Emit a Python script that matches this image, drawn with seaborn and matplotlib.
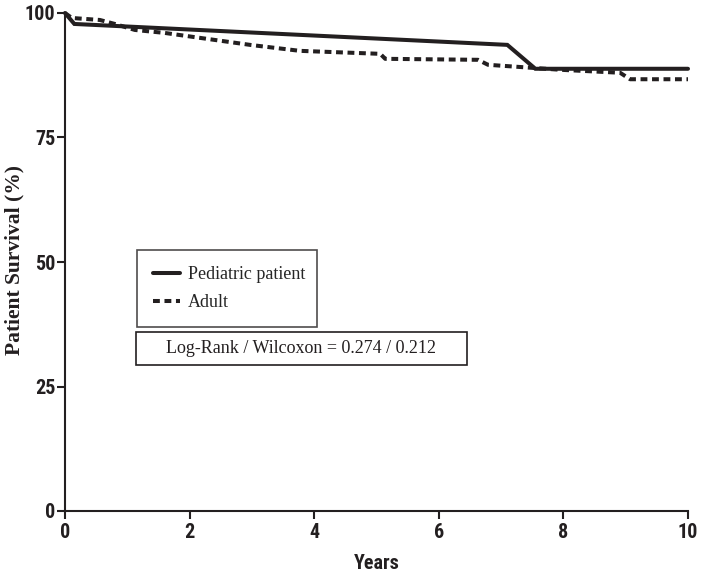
import matplotlib
matplotlib.use("Agg")
import matplotlib.pyplot as plt
from matplotlib import font_manager
from matplotlib.patches import Rectangle
import seaborn as sns
import pandas as pd

# Data
ped_years = [0.0, 0.15, 7.1, 7.55, 10.0]
ped_surv = [100.0, 97.8, 93.6, 88.8, 88.8]
adult_years = [0.0, 0.11, 0.56, 0.80, 1.12, 1.6, 2.17, 2.97, 3.77, 5.06, 5.14, 6.63, 6.79, 7.95, 8.91, 9.07, 10.0]
adult_surv = [100.0, 99.0, 98.6, 97.8, 96.6, 96.0, 95.0, 93.6, 92.4, 91.8, 90.8, 90.6, 89.6, 88.6, 88.0, 86.7, 86.7]
group_names = ["Pediatric patient", "Adult"]
x_ticks = [0, 2, 4, 6, 8, 10]
y_ticks = [0, 25, 50, 75, 100]
stat_text = "Log-Rank / Wilcoxon = 0.274 / 0.212"

df = pd.DataFrame({
    "Years": ped_years + adult_years,
    "Survival": ped_surv + adult_surv,
    "Group": [group_names[0]] * len(ped_years) + [group_names[1]] * len(adult_years),
})

sns.set_theme(style="ticks")
names = {f.name for f in font_manager.fontManager.ttflist}
candidates = ["Liberation Sans Narrow", "Arial Narrow", "Roboto Condensed", "Archivo Narrow",
              "PT Sans Narrow", "Pragati Narrow", "Fira Sans Condensed", "IBM Plex Sans Condensed",
              "Asap Condensed", "Encode Sans Condensed", "Barlow Semi Condensed", "Sofia Sans Condensed",
              "Open Sans Condensed", "Barlow Condensed", "DejaVu Sans"]
sans_narrow = next(c for c in candidates if c in names)
serif = "Liberation Serif" if "Liberation Serif" in names else "DejaVu Serif"
plt.rcParams["font.family"] = ["Liberation Sans", "DejaVu Sans"]

ink = "#231f20"
fig = plt.figure(figsize=(7.04, 5.73), dpi=100)
ax = fig.add_axes([65 / 704, 1 - 511 / 573, 623 / 704, 498 / 573])

sns.lineplot(data=df, x="Years", y="Survival", hue="Group", style="Group",
             palette={group_names[0]: ink, group_names[1]: ink},
             dashes={group_names[0]: "", group_names[1]: (1.7, 1.15)},
             estimator=None, sort=False, linewidth=2.9, legend=False, ax=ax)
for ln in ax.lines:
    ln.set_clip_on(False)
    ln.set_solid_joinstyle("miter")

ax.set_xlim(0, 10)
ax.set_ylim(0, 100)
ax.set_xticks(x_ticks)
ax.set_yticks(y_ticks)
sns.despine(ax=ax)
for s in ["left", "bottom"]:
    ax.spines[s].set_linewidth(1.5)
    ax.spines[s].set_color(ink)
ax.tick_params(direction="out", length=6, width=1.5, color=ink)
ax.tick_params(axis="y", pad=1)
ax.tick_params(axis="x", pad=3)
for lab in ax.get_xticklabels() + ax.get_yticklabels():
    lab.set_fontfamily(sans_narrow)
    lab.set_fontweight("bold")
    lab.set_fontsize(14.5)
    lab.set_color(ink)

ax.set_xlabel("Years", fontfamily=sans_narrow, fontweight="bold", fontsize=14.5, color=ink, labelpad=8)
ax.set_ylabel("")
fig.text(14 / 704, 1 - 260 / 573, "Patient Survival (%)", rotation=90, ha="center", va="center",
         fontfamily=serif, fontweight="bold", fontsize=15.5, color=ink)

handles = ax.lines[:2]
leg = ax.legend(handles, group_names, loc="upper left",
                bbox_to_anchor=(72 / 623, (511 - 250) / 498, 180 / 623, 0.0),
                mode="expand", borderaxespad=0, fancybox=False, frameon=True,
                prop={"family": serif, "size": 13},
                handlelength=1.5, handletextpad=0.4, borderpad=0.9, labelspacing=0.6)
leg.get_frame().set_edgecolor(ink)
leg.get_frame().set_linewidth(1.2)

x0, x1 = (136 - 65) / 623, (467 - 65) / 623
y1, y0 = (511 - 332) / 498, (511 - 365) / 498
ax.add_patch(Rectangle((x0, y0), x1 - x0, y1 - y0, transform=ax.transAxes, facecolor="white",
                       edgecolor=ink, linewidth=1.2, zorder=5))
ax.text((x0 + x1) / 2, (y0 + y1) / 2, stat_text, transform=ax.transAxes,
        ha="center", va="center", fontfamily=serif, fontsize=13, color=ink, zorder=6)

fig.savefig("out.png", dpi=100)
